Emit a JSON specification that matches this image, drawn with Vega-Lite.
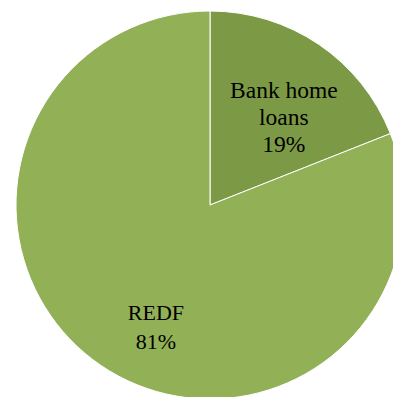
{
  "$schema": "https://vega.github.io/schema/vega-lite/v6.json",
  "width": 393,
  "height": 397,
  "autosize": "none",
  "padding": 0,
  "background": "white",
  "view": {"stroke": null},
  "data": {
    "values": [
      {"source": "Bank home loans", "share": 19, "order": 1, "label": "Bank home\nloans\n19%"},
      {"source": "REDF", "share": 81, "order": 2, "label": "REDF\n81%"}
    ]
  },
  "encoding": {
    "theta": {"field": "share", "type": "quantitative", "stack": true},
    "order": {"field": "order", "type": "quantitative"}
  },
  "layer": [
    {
      "mark": {"type": "arc", "x": 210, "y": 205, "outerRadius": 194, "stroke": "white", "strokeWidth": 1},
      "encoding": {
        "color": {
          "field": "source",
          "type": "nominal",
          "scale": {"domain": ["Bank home loans", "REDF"], "range": ["#7c9a46", "#92b056"]},
          "legend": null
        }
      }
    },
    {
      "mark": {"type": "text", "x": 210, "y": 205, "radius": 135, "dx": -2, "dy": -2, "font": "Liberation Serif", "fontSize": 23.5, "lineHeight": 27, "lineBreak": "\n", "color": "black", "align": "center", "baseline": "middle"},
      "encoding": {
        "text": {"condition": {"test": "datum.source === 'REDF'", "value": ""}, "field": "label", "type": "nominal"}
      }
    },
    {
      "mark": {"type": "text", "x": 210, "y": 205, "radius": 121, "dx": 14, "dy": 8, "font": "Liberation Serif", "fontSize": 22, "lineHeight": 29, "lineBreak": "\n", "color": "black", "align": "center", "baseline": "middle"},
      "encoding": {
        "text": {"condition": {"test": "datum.source !== 'REDF'", "value": ""}, "field": "label", "type": "nominal"}
      }
    }
  ]
}
